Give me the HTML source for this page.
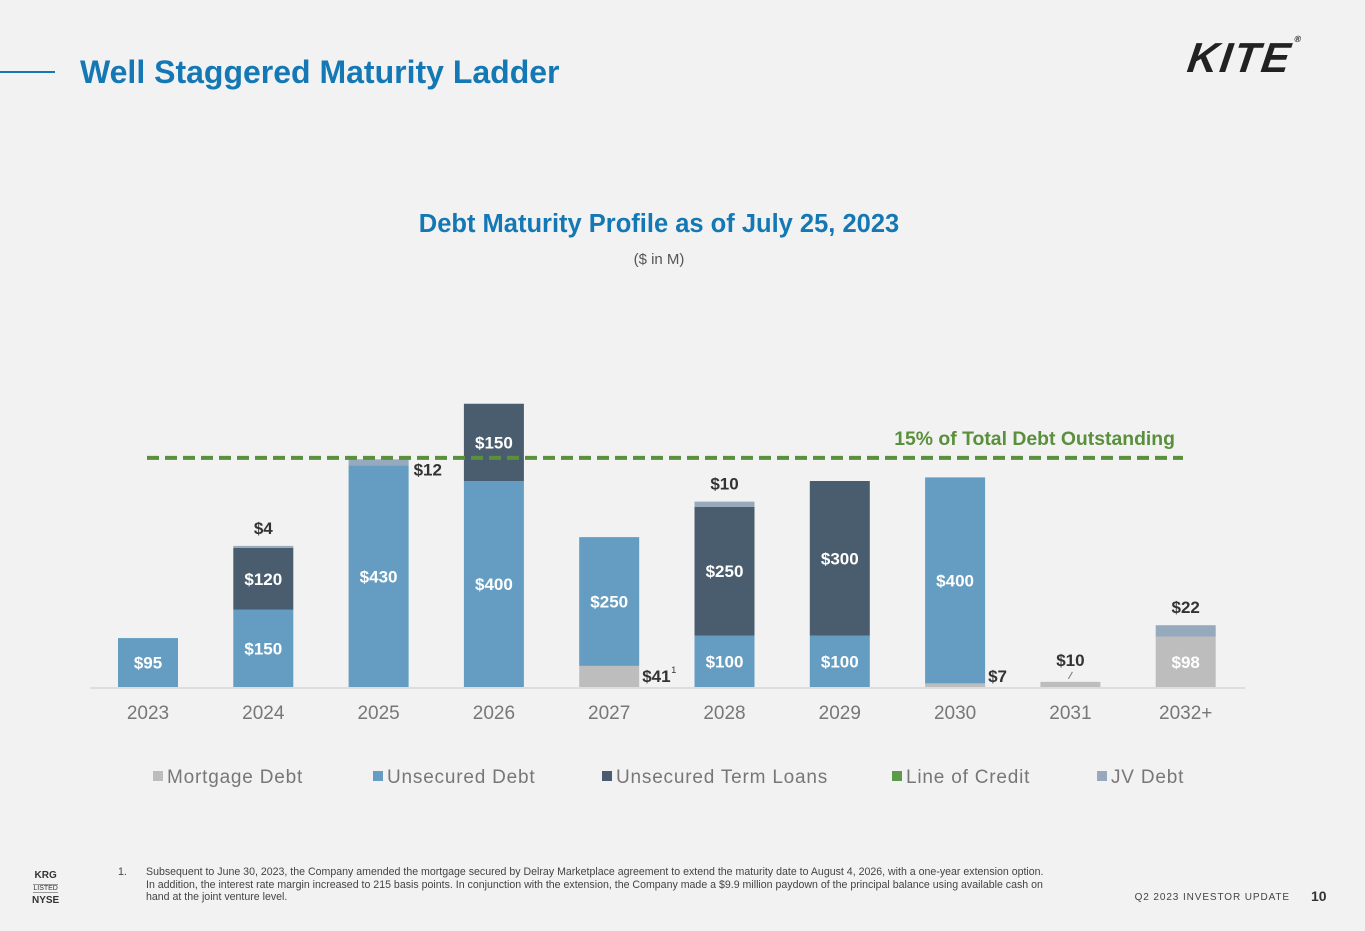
<!DOCTYPE html>
<html><head><meta charset="utf-8"><style>
body{margin:0;width:1365px;height:931px;background:#f2f2f2;font-family:"Liberation Sans",sans-serif;overflow:hidden;position:relative}
.t{position:absolute;white-space:nowrap}
</style></head><body>
<div style="position:absolute;left:0;top:71px;width:55px;height:2px;background:#1478b4"></div>
<div class="t" style="left:80px;top:54px;font-size:32px;font-weight:bold;color:#1478b4">Well Staggered Maturity Ladder</div>
<div class="t" style="left:1188px;top:34px;font-size:42px;font-weight:900;font-style:italic;color:#222;letter-spacing:2px;transform:skewX(-8deg)">KITE<span style="font-size:9px;vertical-align:top">®</span></div>
<div class="t" style="left:0;width:1318px;text-align:center;top:210px;font-size:25.5px;font-weight:bold;color:#1478b4">Debt Maturity Profile as of July 25, 2023</div>
<div class="t" style="left:0;width:1318px;text-align:center;top:251px;font-size:15px;color:#555">($ in M)</div>
<svg id="chart" width="1365" height="931" style="position:absolute;left:0;top:0" font-family="Liberation Sans, sans-serif"></svg>
<div class="t" style="left:118px;top:866px;font-size:10.6px;color:#444;line-height:12.5px">1.<span style="position:absolute;left:28px">Subsequent to June 30, 2023, the Company amended the mortgage secured by Delray Marketplace agreement to extend the maturity date to August 4, 2026, with a one-year extension option.<br>In addition, the interest rate margin increased to 215 basis points. In conjunction with the extension, the Company made a $9.9 million paydown of the principal balance using available cash on<br>hand at the joint venture level.</span></div>
<div class="t" style="left:32px;top:870px;font-size:10px;font-weight:bold;color:#333;text-align:center;line-height:12px">KRG<br><span style="font-weight:normal;font-size:7px;border-top:1px solid #999;border-bottom:1px solid #999">LISTED</span><br>NYSE</div>
<div class="t" style="right:75px;top:892px;font-size:10px;letter-spacing:0.9px;color:#444">Q2 2023 INVESTOR UPDATE</div>
<div class="t" style="left:1311px;top:888px;font-size:14px;font-weight:bold;color:#333">10</div>
<script>
const years=["2023","2024","2025","2026","2027","2028","2029","2030","2031","2032+"];
const mortgage=[0,0,0,0,41,0,0,7,10,98];
const unsecured=[95,150,430,400,250,100,100,400,0,0];
const termLoans=[0,120,0,150,0,250,300,0,0,0];
const lineOfCredit=[0,0,0,0,0,0,0,0,0,0];
const jvDebt=[0,4,12,0,0,10,0,0,0,22];
const thresholdValue=445;
const thresholdLabel="15% of Total Debt Outstanding";
const legendLabels=["Mortgage Debt","Unsecured Debt","Unsecured Term Loans","Line of Credit","JV Debt"];
const colors=["#bdbdbd","#649dc1","#4a5d6e","#5a9a48","#97a9bd"];
const svg=document.getElementById('chart');const NS="http://www.w3.org/2000/svg";
const base=687,scale=0.515,x0=148,step=115.3,bw=60;
const xc=i=>x0+i*step;const yv=v=>base-v*scale;
function mk(tag,a,txt){const e=document.createElementNS(NS,tag);for(const k in a)e.setAttribute(k,a[k]);if(txt!=null)e.textContent=txt;svg.appendChild(e);return e;}
const ax=mk('line',{x1:90,x2:1245,y1:base+1,y2:base+1,stroke:'#ddd','stroke-width':2});

const series=[mortgage,unsecured,termLoans,lineOfCredit,jvDebt];
const sn=['mortgage','unsecured','term-loan','line-of-credit','jv-debt'];
years.forEach((y,i)=>{
  let cum=0;
  series.forEach((s,k)=>{
    const v=s[i];if(!v)return;
    const y1=yv(cum+v),y0=yv(cum);cum+=v;
    const r=mk('rect',{x:xc(i)-bw/2,y:y1,width:bw,height:y0-y1,fill:colors[k]});
    
    
    let lx=xc(i),ly=(y0+y1)/2+6,anchor='middle',fill='#fff';
    if(y0-y1<25){fill='#333';
      if(k===4){ if(i===2){lx=xc(i)+bw/2+5;ly=y1+16;anchor='start';} else {ly=y1-12;} }
      else if(i===8){ly=y1-16;mk('line',{x1:lx-2,y1:y1-3,x2:lx+2,y2:y1-10,stroke:'#777'});}
      else {lx=xc(i)+bw/2+3;ly=y0-5;anchor='start';}
    }
    const t=mk('text',{x:lx,y:ly,'text-anchor':anchor,'font-size':17,'font-weight':'bold',fill:fill},'$'+v);
    
    
    if(i===4&&k===0){const sup=mk('text',{x:lx+29,y:ly-9,'font-size':9,fill:'#333'},'1');}
  });
  const tl=mk('text',{x:xc(i),y:719,'text-anchor':'middle','font-size':19,fill:'#777'},y);
  
  
});
const th=mk('line',{x1:147,x2:1183,y1:yv(thresholdValue),y2:yv(thresholdValue),stroke:'#5a8f3c','stroke-width':4,'stroke-dasharray':'12,6'});

const tt=mk('text',{x:1175,y:445,'text-anchor':'end','font-size':19.4,'font-weight':'bold',fill:'#5a8f3c'},thresholdLabel);

const lx=[153,373,602,892,1097];
legendLabels.forEach((l,k)=>{
  const g=mk('rect',{x:lx[k],y:771,width:10,height:10,fill:colors[k]});
  
  const t=mk('text',{x:lx[k]+14,y:783,'font-size':19,'letter-spacing':0.8,fill:'#777'},l);
  
});
</script>
</body></html>
